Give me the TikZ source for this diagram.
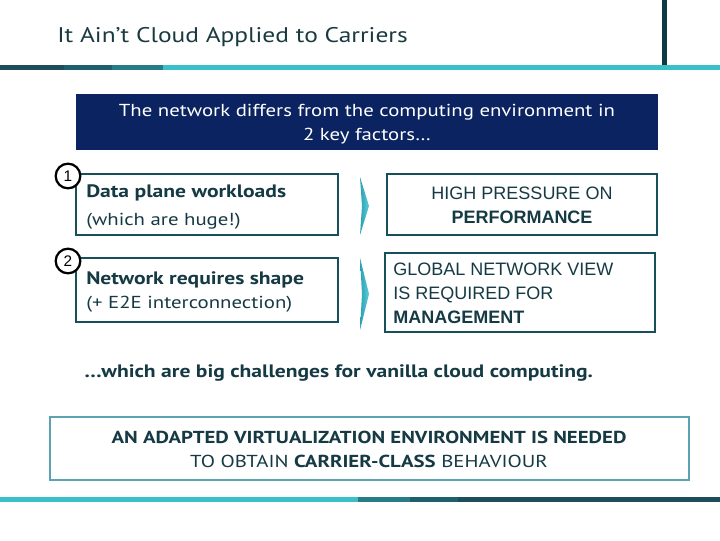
\documentclass[tikz,border=0pt]{standalone}
\usepackage{fontspec}
\setmainfont{PT Sans}[FakeStretch=1.2]
\newfontfamily\arialf{Liberation Sans}
\definecolor{titlec}{HTML}{1A3A42}
\definecolor{txtc}{HTML}{163A44}
\definecolor{boxc}{HTML}{17505A}
\definecolor{navy}{HTML}{0B2461}
\definecolor{cyanb}{HTML}{3BBFC8}
\definecolor{bandA}{HTML}{1D4D5A}
\definecolor{bandB}{HTML}{1F5E6B}
\definecolor{bandC}{HTML}{2A7B88}
\definecolor{vlinec}{HTML}{0D3B44}
\definecolor{lightbox}{HTML}{5BA3B3}
\definecolor{chevA}{HTML}{2C9FB2}
\definecolor{chevB}{HTML}{5CCFDA}
\tikzset{
  framebox/.style={draw=boxc, line width=2.2pt, fill=white, inner sep=0pt},
  numcirc/.style={circle, draw=black, line width=1.7pt, fill=white, minimum size=18.5pt, inner sep=0pt, font=\arialf\fontsize{11.5}{11.5}\selectfont},
  lefttxt/.style={anchor=base west, inner sep=0pt, text=txtc},
  midtxt/.style={anchor=base, inner sep=0pt, text=txtc},
}
\begin{document}
\begin{tikzpicture}[x=0.75pt,y=-0.75pt]
\useasboundingbox (0,0) rectangle (720,540);
\fill[white] (0,0) rectangle (720,540);
% title
\node[lefttxt, text=titlec, font=\fontsize{15.9}{19}\selectfont] (title) at (57,42) {It Ain’t Cloud Applied to Carriers};
% top band
\fill[bandA] (0,65) rectangle (64,69.5);
\fill[bandB] (64,65) rectangle (112,69.5);
\fill[bandC] (112,65) rectangle (163,69.5);
\fill[cyanb] (163,65) rectangle (720,69.5);
\fill[vlinec] (662,0) rectangle (667,65);
% header
\node[fill=navy, inner sep=0pt, minimum width={582*0.75pt}, minimum height={56*0.75pt}] (head) at (367,122) {};
\node[midtxt, text=white, font=\fontsize{13}{16}\selectfont] (h1) at (367,116) {The network differs from the computing environment in};
\node[midtxt, text=white, font=\fontsize{13}{16}\selectfont] (h2) at (367,140) {2 key factors\dots};
% left boxes
\node[framebox, minimum width={262*0.75pt}, minimum height={61*0.75pt}] (b1) at (207,204.5) {};
\node[framebox, minimum width={262*0.75pt}, minimum height={64*0.75pt}] (b2) at (207,290) {};
\node[lefttxt, font=\bfseries\fontsize{13.5}{16}\selectfont] (t1a) at (86,197) {Data plane workloads};
\node[lefttxt, font=\fontsize{13}{16}\selectfont] (t1b) at (86,225) {(which are huge!)};
\node[lefttxt, font=\bfseries\fontsize{13.5}{16}\selectfont] (t2a) at (86,284) {Network requires shape};
\node[lefttxt, font=\fontsize{13}{16}\selectfont] (t2b) at (86,308) {(+ E2E interconnection)};
\node[numcirc] (c1) at (68,176) {1};
\node[numcirc] (c2) at (68,261) {2};
% chevrons
\shade[left color=chevA, right color=chevB] (360,177) -- (369,206) -- (360,235) -- (362,206) -- cycle;
\shade[left color=chevA, right color=chevB] (360,258) -- (369,294) -- (360,330) -- (362,294) -- cycle;
% right boxes
\node[framebox, minimum width={270*0.75pt}, minimum height={61*0.75pt}] (r1) at (522,204.5) {};
\node[framebox, minimum width={270*0.75pt}, minimum height={79*0.75pt}] (r2) at (520,292.5) {};
\node[midtxt, font=\arialf\fontsize{13.5}{16}\selectfont] (r1a) at (522,199) {HIGH PRESSURE ON};
\node[midtxt, font=\arialf\bfseries\fontsize{13.5}{16}\selectfont] (r1b) at (522,223) {PERFORMANCE};
\node[lefttxt, font=\arialf\fontsize{13.5}{16}\selectfont] (r2a) at (393,275) {GLOBAL NETWORK VIEW};
\node[lefttxt, font=\arialf\fontsize{13.5}{16}\selectfont] (r2b) at (393,299) {IS REQUIRED FOR};
\node[lefttxt, font=\arialf\bfseries\fontsize{13.5}{16}\selectfont] (r2c) at (393,323) {MANAGEMENT};
% challenge line
\node[lefttxt, font=\bfseries\fontsize{13.5}{16}\selectfont] (chal) at (84,377) {\dots which are big challenges for vanilla cloud computing.};
% bottom box
\node[draw=lightbox, line width=2.2pt, inner sep=0pt, minimum width={639*0.75pt}, minimum height={63*0.75pt}] (bot) at (369.5,448.5) {};
\node[midtxt, font=\bfseries\fontsize{13}{16}\selectfont] (bt1) at (369,443) {AN ADAPTED VIRTUALIZATION ENVIRONMENT IS NEEDED};
\node[midtxt, font=\fontsize{13}{16}\selectfont] (bt2) at (369,467) {TO OBTAIN \textbf{CARRIER-CLASS} BEHAVIOUR};
% bottom band
\fill[cyanb] (0,497) rectangle (358,502);
\fill[bandC] (358,497) rectangle (410,502);
\fill[bandB] (410,497) rectangle (458,502);
\fill[bandA] (458,497) rectangle (720,502);
\end{tikzpicture}
\end{document}
